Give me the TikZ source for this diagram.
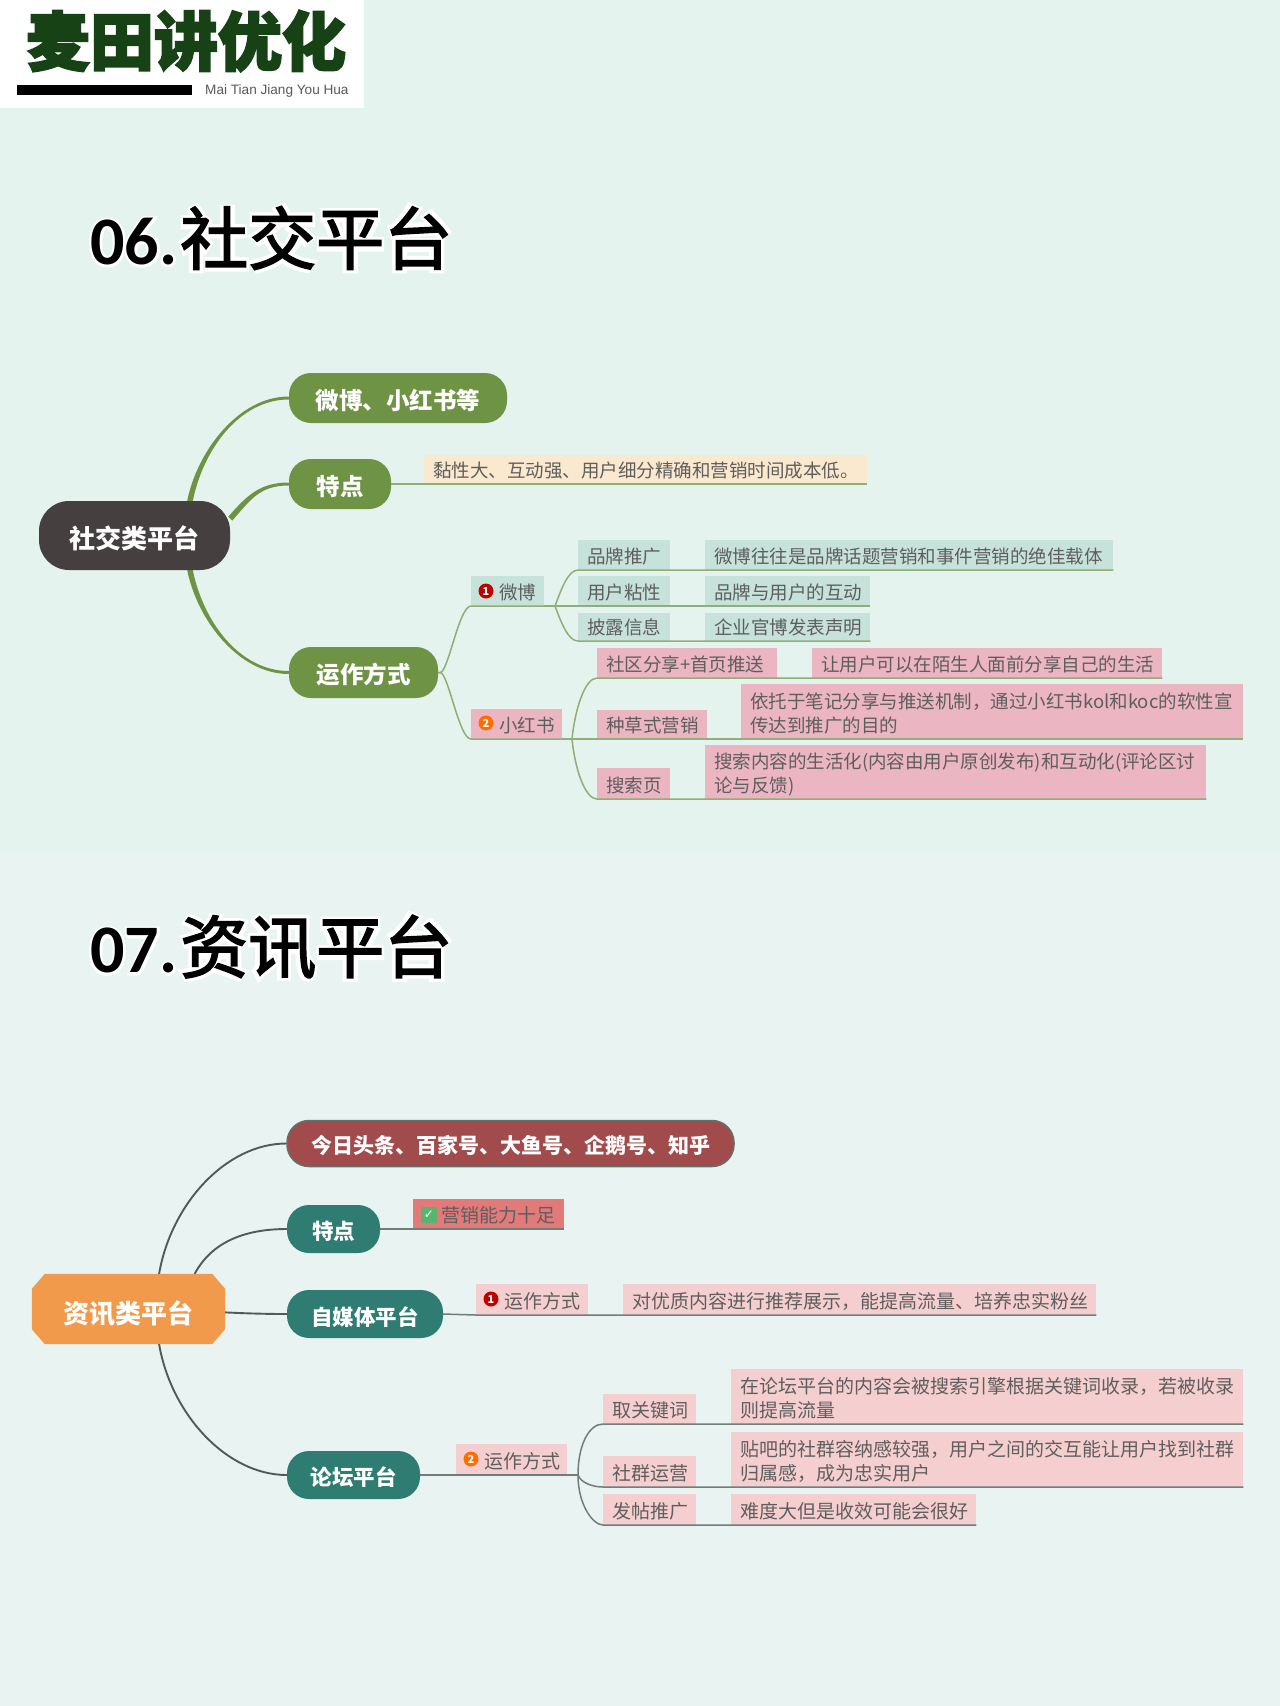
\documentclass[tikz,border=0pt]{standalone}
\usepackage{fontspec}
\setmainfont{Noto Sans CJK SC}
\newfontfamily\halofont[BoldFeatures={FakeBold=7}]{Noto Sans CJK SC}
\newfontfamily\halolat[BoldFeatures={FakeBold=7}]{Carlito}
\newfontfamily\titlecjk[FakeBold=2.5]{Noto Sans CJK SC}
\newfontfamily\titlelat{Carlito}
\newfontfamily\logofont[BoldFeatures={FakeBold=3}]{Noto Sans CJK SC}
\newfontfamily\latinfont{Liberation Sans}
\newfontfamily\symfont{DejaVu Sans}
\usetikzlibrary{calc}
\pgfdeclarelayer{pagebg}
\pgfdeclarelayer{edges}
\pgfdeclarelayer{plates}
\pgfsetlayers{pagebg,edges,plates,main}
\definecolor{bgtop}{HTML}{E4F3ED}
\definecolor{bgbot}{HTML}{E9F4F2}
\definecolor{rootdark}{HTML}{453F40}
\definecolor{leafgreen}{HTML}{6F9345}
\definecolor{rootorange}{HTML}{F19A4C}
\definecolor{deepteal}{HTML}{2E7C72}
\definecolor{brick}{HTML}{A24B4C}
\definecolor{brickedge}{HTML}{5F7269}
\definecolor{tealtag}{HTML}{C6E2DA}
\definecolor{pinktag}{HTML}{EBB5C2}
\definecolor{beigetag}{HTML}{FBE9CF}
\definecolor{softpink}{HTML}{F5CFCF}
\definecolor{redtag}{HTML}{E27A7A}
\definecolor{tagtext}{HTML}{5E5E5E}
\definecolor{greenline}{HTML}{8FAE78}
\definecolor{greyline}{HTML}{6F7D7B}
\definecolor{edgegrey}{HTML}{4D5C5A}
\definecolor{logogreen}{HTML}{174215}
\definecolor{checkgreen}{HTML}{57B56F}
\newcommand\taperedge[6]{%
  \fill[leafgreen] ($(#1)-(#2)$) .. controls +(#3) and +(#4) .. ($(#5)+(0,#6)$) -- ($(#5)-(0,#6)$) .. controls +(#4) and +(#3) .. ($(#1)+(#2)$) -- cycle;}
\tikzset{
  x=1pt,y=-1pt,
  pill/.style={rounded corners=22pt,inner sep=0pt,text=white,font=\fontsize{23.5}{26}\selectfont\bfseries},
  psz/.style n args={3}{minimum width=#1pt,minimum height=#2pt,text depth=#3pt,text height=\the\dimexpr#2pt-#3pt\relax},
  bigtext/.style={font=\fontsize{26}{28}\selectfont\bfseries},
  midtext/.style={font=\fontsize{21.5}{24}\selectfont\bfseries},
  tg/.style={anchor=south west,inner xsep=9pt,inner ysep=0pt,align=left,text=tagtext,font=\fontsize{18.5}{24}\selectfont},
  tgb/.style={tg,font=\fontsize{19}{24}\selectfont},
  sz/.style 2 args={minimum height=#2pt,text depth=6pt,text height=\the\dimexpr#2pt-6pt\relax,text width=\the\dimexpr#1pt-18pt\relax},
  sztwo/.style 2 args={minimum height=#2pt,text depth=30pt,text height=\the\dimexpr#2pt-30pt\relax,text width=\the\dimexpr#1pt-18pt\relax},
  thick grey/.style={draw=edgegrey,line width=1.9pt,line cap=round},
  greensub/.style={draw=greenline,line width=1.5pt},
  greysub/.style={draw=greyline,line width=1.5pt},
  badge/.style={circle,inner sep=0pt,minimum size=15pt,text=white,font=\fontsize{11}{11}\selectfont\bfseries},
  titletext/.style={anchor=west,inner sep=0pt,font=\fontsize{68}{72}\selectfont},
}
\begin{document}
\begin{tikzpicture}
\useasboundingbox (0,0) rectangle (1280,1706);
\begin{pgfonlayer}{pagebg}
\fill[bgtop] (0,0) rectangle (1280,853);
\fill[bgbot] (0,853) rectangle (1280,1706);
\end{pgfonlayer}

% logo
\node[fill=white,minimum width=364pt,minimum height=108pt,inner sep=0pt] (logobox) at (182,54) {};
\node[inner sep=0pt,text=logogreen,font=\fontsize{64}{66}\selectfont] (logotext) at (186,41) {\logofont\bfseries 麦田讲优化};
\node[fill=black,minimum width=175pt,minimum height=10pt,inner sep=0pt] (logobar) at (104.5,90) {};
\node[anchor=west,inner sep=0pt,text=black!65,font=\fontsize{13.6}{15}\selectfont] (logosub) at (205,90.5) {\latinfont Mai Tian Jiang You Hua};

% titles
\node[titletext,text=white] (halo1) at (90,238) {{\halolat\bfseries 06.}\hspace{3pt}{\halofont\bfseries 社交平台}};
\node[titletext,text=black] (title1) at (90,238) {{\titlelat\bfseries 06.}\hspace{3pt}{\titlecjk 社交平台}};
\node[titletext,text=white] (halo2) at (90,947) {{\halolat\bfseries 07.}\hspace{3pt}{\halofont\bfseries 资讯平台}};
\node[titletext,text=black] (title2) at (90,947) {{\titlelat\bfseries 07.}\hspace{3pt}{\titlecjk 资讯平台}};

% ---------- section 06
\node[pill,bigtext,fill=rootdark,psz={191}{69}{21.5},rounded corners=30pt] (root1) at (134.5,535.5) {社交类平台};
\node[pill,fill=leafgreen,psz={218}{50}{14}] (a1) at (398,398) {微博、小红书等};
\node[pill,fill=leafgreen,psz={102}{50}{14}] (a2) at (340,484) {特点};
\node[pill,fill=leafgreen,psz={149}{51}{15}] (a3) at (363.5,672.5) {运作方式};

\begin{pgfonlayer}{edges}
\taperedge{root1.32}{2.8,0}{10,-50}{-50,0}{a1.west}{-1.5}
\taperedge{root1.10}{2,2}{18,-20}{-30,0}{a2.west}{-1.5}
\taperedge{root1.-32}{2.8,0}{10,50}{-50,0}{a3.west}{1.5}
\end{pgfonlayer}

\node[tg,sz={443}{29},fill=beigetag] (t0) at (424,484) {黏性大、互动强、用户细分精确和营销时间成本低。};
\draw[greensub] (a2.east) -- (t0.south west) -- (t0.south east);

\node[tg,sz={73}{30},fill=tealtag] (wb) at (471,606) {\hspace*{19pt}微博};
\node[badge,fill=red!75!black] (wbi) at (486,591) {1};
\node[tg,sz={91}{30},fill=pinktag] (xhs) at (471,739) {\hspace*{19pt}小红书};
\node[badge,fill=orange!85!red] (xhsi) at (486,723) {2};
\draw[greensub] (a3.east) -- +(2,0) .. controls +(8,0) and +(-12,0) .. (wb.south west) -- (wb.south east);
\draw[greensub] (a3.east) -- +(2,0) .. controls +(8,0) and +(-12,0) .. (xhs.south west) -- (xhs.south east);

% weibo children
\node[tg,sz={92}{30},fill=tealtag] (w1) at (578,570) {品牌推广};
\node[tg,sz={408}{30},fill=tealtag] (w1d) at (705,570) {微博往往是品牌话题营销和事件营销的绝佳载体};
\node[tg,sz={92}{30},fill=tealtag] (w2) at (578,606) {用户粘性};
\node[tg,sz={165}{30},fill=tealtag] (w2d) at (705,606) {品牌与用户的互动};
\node[tg,sz={92}{28},fill=tealtag] (w3) at (578,641) {披露信息};
\node[tg,sz={165}{28},fill=tealtag] (w3d) at (705,641) {企业官博发表声明};
\coordinate (wfork) at (555,606);
\draw[greensub] (wb.south east) -- (wfork) -- (w2.south west) -- (w2d.south east);
\draw[greensub] (wfork) .. controls +(6,-16) and +(-10,0) .. (w1.south west) -- (w1d.south east);
\draw[greensub] (wfork) .. controls +(6,16) and +(-10,0) .. (w3.south west) -- (w3d.south east);

% xiaohongshu children
\node[tg,sz={180}{30},fill=pinktag] (x1) at (597,678) {社区分享+首页推送};
\node[tg,sz={350}{30},fill=pinktag] (x1d) at (812,678) {让用户可以在陌生人面前分享自己的生活};
\node[tg,sz={110}{29},fill=pinktag] (x2) at (597,739) {种草式营销};
\node[tg,sztwo={502}{55},fill=pinktag] (x2d) at (741,739) {依托于笔记分享与推送机制，通过小红书kol和koc的软性宣\\传达到推广的目的};
\node[tg,sz={73}{31},fill=pinktag] (x3) at (597,799) {搜索页};
\node[tg,sztwo={501}{54},fill=pinktag] (x3d) at (705,799) {搜索内容的生活化(内容由用户原创发布)和互动化(评论区讨\\论与反馈)};
\coordinate (xfork) at (572,739);
\draw[greensub] (xhs.south east) -- (xfork) -- (x2.south west) -- (x2d.south east);
\draw[greensub] (xfork) .. controls +(3,-30) and +(-12,0) .. (x1.south west) -- (x1d.south east);
\draw[greensub] (xfork) .. controls +(3,30) and +(-12,0) .. (x3.south west) -- (x3d.south east);

% ---------- section 07
\node[inner sep=0pt,text=white,psz={193}{70}{21},bigtext] (root2) at (128.5,1309) {资讯类平台};
\begin{pgfonlayer}{plates}
\fill[rootorange] ($(root2.north west)+(13,0)$) -- ($(root2.north east)+(-13,0)$) -- ($(root2.north east)+(0,15)$) -- ($(root2.south east)+(0,-15)$) -- ($(root2.south east)+(-13,0)$) -- ($(root2.south west)+(13,0)$) -- ($(root2.south west)+(0,-15)$) -- ($(root2.north west)+(0,15)$) -- cycle;
\end{pgfonlayer}
\node[pill,fill=brick,draw=brickedge,line width=1.5pt,psz={447}{46}{13},font=\fontsize{21}{24}\selectfont\bfseries] (b1) at (510.5,1143.5) {今日头条、百家号、大鱼号、企鹅号、知乎};
\node[pill,midtext,fill=deepteal,psz={93}{48}{14}] (b2) at (333.5,1229) {特点};
\node[pill,midtext,fill=deepteal,psz={156}{48}{12.5}] (b3) at (365,1314) {自媒体平台};
\node[pill,midtext,fill=deepteal,psz={133}{48}{14}] (b4) at (353.5,1475) {论坛平台};

\begin{pgfonlayer}{edges}
\draw[thick grey] (root2.49) .. controls +(12,-70) and +(-60,0) .. (b1.west);
\draw[thick grey] (root2.28) .. controls +(16,-30) and +(-45,0) .. (b2.west);
\draw[thick grey] (root2.-2) .. controls +(20,1) and +(-20,0) .. (b3.west);
\draw[thick grey] (root2.-49) .. controls +(12,70) and +(-60,0) .. (b4.west);
\end{pgfonlayer}

\node[tgb,sz={151}{30},fill=redtag] (c1) at (413,1229) {\hspace*{19pt}营销能力十足};
\node[rounded corners=2pt,fill=checkgreen,minimum size=16pt,inner sep=0pt,text=white,font=\fontsize{12}{12}\selectfont] (c1i) at (429,1215) {\symfont ✓};
\draw[greysub] (b2.east) -- (c1.south west) -- (c1.south east);

\node[tgb,sz={112}{31},fill=softpink] (c2) at (476,1315) {\hspace*{19pt}运作方式};
\node[badge,fill=red!75!black] (c2i) at (491,1299) {1};
\node[tgb,sz={473}{31},fill=softpink] (c2d) at (623,1315) {对优质内容进行推荐展示，能提高流量、培养忠实粉丝};
\draw[greysub] (b3.east) -- (c2.south west) -- (c2d.south east);

\node[tgb,sz={111}{31},fill=softpink] (c3) at (456,1475) {\hspace*{19pt}运作方式};
\node[badge,fill=orange!85!red] (c3i) at (471,1459) {2};
\draw[greysub] (b4.east) -- (c3.south west) -- (c3.south east);

\node[tgb,sz={93}{30},fill=softpink] (f1) at (603,1424) {取关键词};
\node[tgb,sztwo={512}{55},fill=softpink] (f1d) at (731,1424) {在论坛平台的内容会被搜索引擎根据关键词收录，若被收录\\则提高流量};
\node[tgb,sz={93}{31},fill=softpink] (f2) at (603,1487) {社群运营};
\node[tgb,sztwo={512}{55},fill=softpink] (f2d) at (731,1487) {贴吧的社群容纳感较强，用户之间的交互能让用户找到社群\\归属感，成为忠实用户};
\node[tgb,sz={93}{31},fill=softpink] (f3) at (603,1525) {发帖推广};
\node[tgb,sz={245}{31},fill=softpink] (f3d) at (731,1525) {难度大但是收效可能会很好};
\coordinate (ffork) at (578,1475);
\draw[greysub] (c3.south east) -- (ffork);
\draw[greysub] (ffork) .. controls +(0,-30) and +(-14,0) .. (f1.south west) -- (f1d.south east);
\draw[greysub] (ffork) .. controls +(3,8) and +(-10,0) .. (f2.south west) -- (f2d.south east);
\draw[greysub] (ffork) .. controls +(0,30) and +(-10,0) .. (f3.south west) -- (f3d.south east);
\end{tikzpicture}
\end{document}
